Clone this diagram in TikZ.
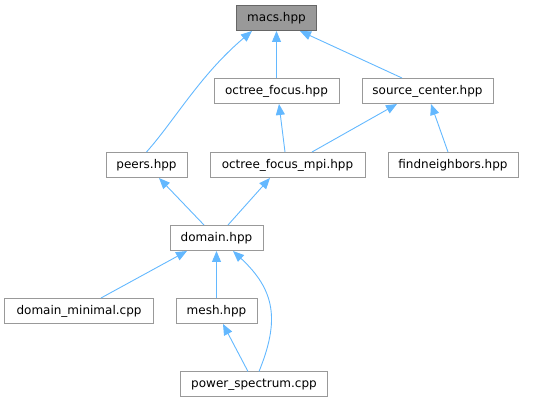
\documentclass[tikz,border=0pt]{standalone}
\usepackage{fontspec}
\setmainfont{DejaVu Sans}
\usetikzlibrary{arrows.meta}

\definecolor{edgeblue}{HTML}{63B8FF}
\definecolor{boxgray}{HTML}{999999}
\definecolor{rootgray}{HTML}{666666}

\tikzset{
    file/.style={draw=boxgray, line width=1pt, fill=white, inner sep=0pt, minimum height=25pt, font=\fontsize{12}{14}\selectfont},
    root/.style={file, draw=rootgray, fill=boxgray},
    edge/.style={draw=edgeblue, line width=0.9pt, -{Triangle[width=9pt, length=11pt]}}
}

\begin{document}
\begin{tikzpicture}[x=1pt, y=-1pt]
    \useasboundingbox (0, 0) rectangle (558, 403);
    \node[root, minimum width=80pt] (macs) at (276.5, 18) {macs.hpp};
    \node[file, minimum width=125pt] (octree_focus) at (276.5, 91) {octree\_focus.hpp};
    \node[file, minimum width=131pt] (source_center) at (427.5, 91) {source\_center.hpp};
    \node[file, minimum width=81pt] (peers) at (146.5, 165) {peers.hpp};
    \node[file, minimum width=155pt] (octree_focus_mpi) at (287.5, 165) {octree\_focus\_mpi.hpp};
    \node[file, minimum width=130pt] (findneighbors) at (453, 165) {findneighbors.hpp};
    \node[file, minimum width=93pt] (domain) at (216.5, 238) {domain.hpp};
    \node[file, minimum width=149pt] (domain_minimal) at (79, 311) {domain\_minimal.cpp};
    \node[file, minimum width=81pt] (mesh) at (216.5, 311) {mesh.hpp};
    \node[file, minimum width=147pt] (power_spectrum) at (254, 384.5) {power\_spectrum.cpp};

    \draw[edge] (peers.north) .. controls (175, 120) and (200, 75) .. (macs.south west -| 252, 31);
    \draw[edge] (octree_focus.north) -- (macs.south);
    \draw[edge] (source_center.north -| 402, 78.5) -- (macs.south east -| 300, 31);
    \draw[edge] (octree_focus_mpi.north -| 285, 152) -- (octree_focus.south -| 279, 104);
    \draw[edge] (octree_focus_mpi.north -| 312, 152) -- (source_center.south -| 397, 104);
    \draw[edge] (findneighbors.north -| 448, 152) -- (source_center.south -| 431, 104);
    \draw[edge] (domain.north -| 204, 225) -- (peers.south -| 159, 177);
    \draw[edge] (domain.north -| 228, 225) -- (octree_focus_mpi.south -| 270, 177);
    \draw[edge] (domain_minimal.north -| 101, 298.5) -- (domain.south -| 187, 251);
    \draw[edge] (mesh.north) -- (domain.south);
    \draw[edge] (power_spectrum.north -| 259, 372) .. controls (280, 320) and (275, 290) .. (domain.south -| 233, 251);
    \draw[edge] (power_spectrum.north -| 248, 372) -- (mesh.south -| 223, 324);
\end{tikzpicture}
\end{document}
